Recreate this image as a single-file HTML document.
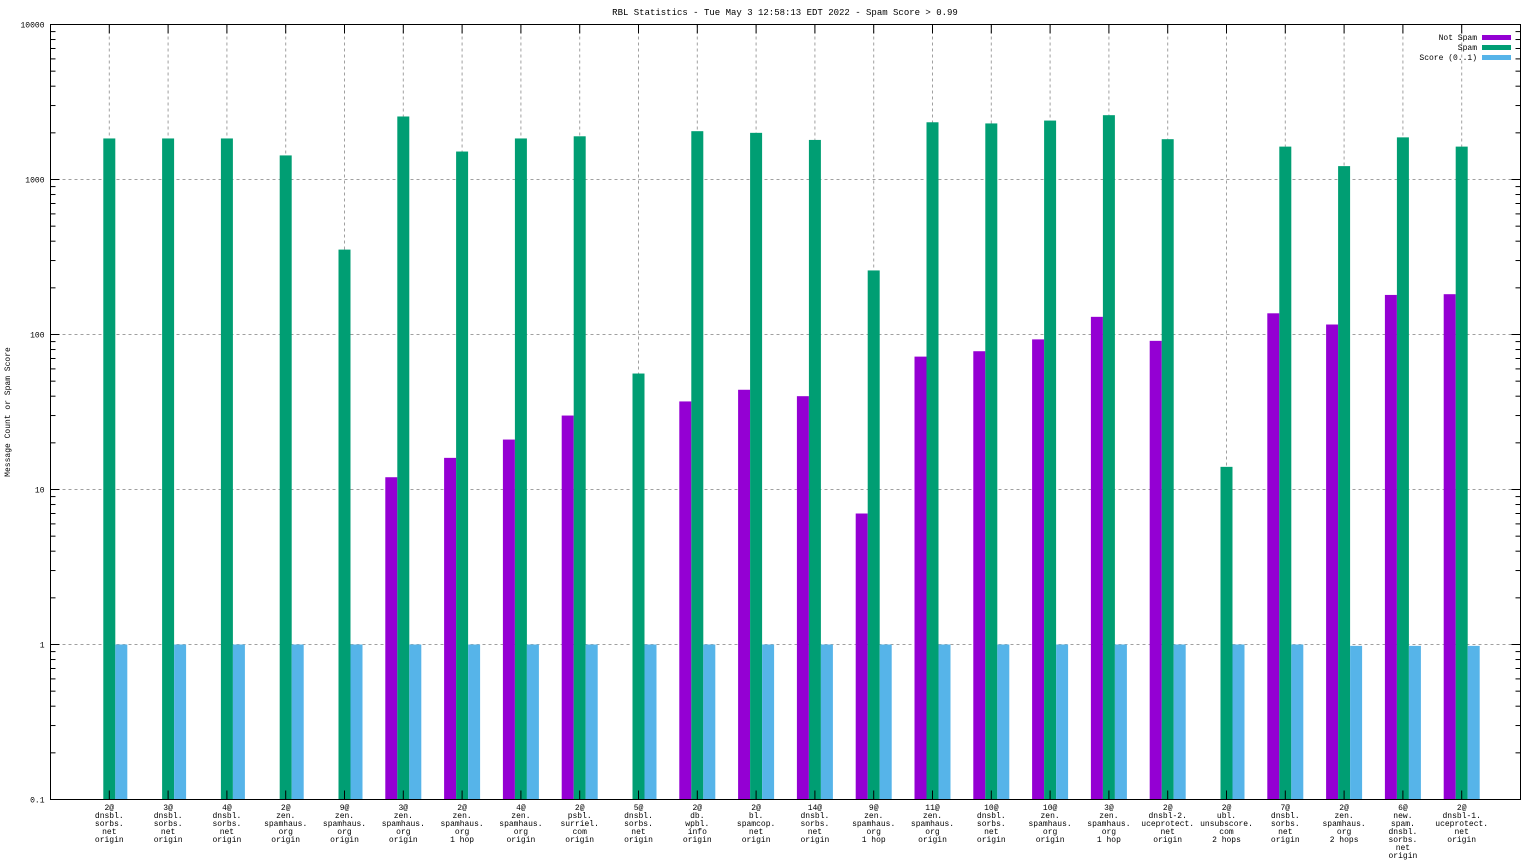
<!DOCTYPE html>
<html><head><meta charset="utf-8"><style>
html,body{margin:0;padding:0;background:#fff}
svg{display:block;font-family:"Liberation Mono","DejaVu Sans Mono",monospace}
</style></head><body>
<svg id="chart" width="1536" height="864" viewBox="0 0 1536 864" xmlns="http://www.w3.org/2000/svg">
<text x="785" y="15" font-size="9" text-anchor="middle">RBL Statistics - Tue May  3 12:58:13 EDT 2022 - Spam Score &gt; 0.99</text>
<text transform="translate(10,412) rotate(-90)" font-size="8" text-anchor="middle">Message Count or Spam Score</text>
<g id="grid"></g><g id="bars"></g><g id="axes"></g>
<g font-size="8" text-anchor="end">
<text x="1477" y="40">Not Spam</text>
<rect x="1482" y="35" width="29" height="5" fill="#9400d3"/>
<text x="1477" y="50">Spam</text>
<rect x="1482" y="45" width="29" height="5" fill="#009e73"/>
<text x="1477" y="60">Score (0..1)</text>
<rect x="1482" y="55" width="29" height="5" fill="#56b4e9"/>
</g>
</svg>
<script>
const categories=[
["2@","dnsbl.","sorbs.","net","origin"],["3@","dnsbl.","sorbs.","net","origin"],["4@","dnsbl.","sorbs.","net","origin"],
["2@","zen.","spamhaus.","org","origin"],["9@","zen.","spamhaus.","org","origin"],["3@","zen.","spamhaus.","org","origin"],
["2@","zen.","spamhaus.","org","1 hop"],["4@","zen.","spamhaus.","org","origin"],["2@","psbl.","surriel.","com","origin"],
["5@","dnsbl.","sorbs.","net","origin"],["2@","db.","wpbl.","info","origin"],["2@","bl.","spamcop.","net","origin"],
["14@","dnsbl.","sorbs.","net","origin"],["9@","zen.","spamhaus.","org","1 hop"],["11@","zen.","spamhaus.","org","origin"],
["10@","dnsbl.","sorbs.","net","origin"],["10@","zen.","spamhaus.","org","origin"],["3@","zen.","spamhaus.","org","1 hop"],
["2@","dnsbl-2.","uceprotect.","net","origin"],["2@","ubl.","unsubscore.","com","2 hops"],["7@","dnsbl.","sorbs.","net","origin"],
["2@","zen.","spamhaus.","org","2 hops"],["6@","new.","spam.","dnsbl.","sorbs.","net","origin"],["2@","dnsbl-1.","uceprotect.","net","origin"]];
const notSpam=[0,0,0,0,0,12,16,21,30,0,37,44,40,7,72,78,93,130,91,0,137,116,180,182];
const spam=[1840,1840,1840,1430,353,2550,1515,1840,1900,56,2050,2000,1800,259,2340,2300,2400,2600,1820,14,1630,1220,1870,1630];
const score=[1,1,1,1,1,1,1,1,1,1,1,1,1,1,1,1,1,1,1,1,1,0.98,0.98,0.98];
const yTicks=[0.1,1,10,100,1000,10000];
const yTickLabels=["0.1","1","10","100","1000","10000"];

const L=50.5,R=1520.5,T=24.5,B=799.5,NS="http://www.w3.org/2000/svg";
const xs=i=>L+(i+1)*(R-L)/(categories.length+1);
const ys=v=>B-(Math.log10(v)+1)*(B-T)/5;
function mk(tag,at,parent){const e=document.createElementNS(NS,tag);for(const k in at)e.setAttribute(k,at[k]);parent.appendChild(e);return e;}
const grid=document.getElementById('grid'),bars=document.getElementById('bars'),axes=document.getElementById('axes');
yTicks.forEach((v,k)=>{const y=ys(v);
 if(k>0&&k<yTicks.length-1){const g=mk('line',{x1:L,x2:R,y1:y,y2:y,stroke:'#a0a0a0','stroke-dasharray':'3,3'},grid);
 
 }
 const t=mk('text',{x:L-6,y:y+3,'font-size':8,'text-anchor':'end'},axes);t.textContent=yTickLabels[k];
 
 
 const lenM=9;mk('line',{x1:L,x2:L+lenM,y1:y,y2:y,stroke:'#000'},axes);mk('line',{x1:R,x2:R-lenM,y1:y,y2:y,stroke:'#000'},axes);
 if(k<yTicks.length-1)for(let m=2;m<10;m++){const yy=ys(v*m);mk('line',{x1:L,x2:L+5,y1:yy,y2:yy,stroke:'#000'},axes);mk('line',{x1:R,x2:R-5,y1:yy,y2:yy,stroke:'#000'},axes);}
});
const bw=12;
categories.forEach((c,i)=>{const x=xs(i);
 const g=mk('line',{x1:x,x2:x,y1:T,y2:B,stroke:'#a0a0a0','stroke-dasharray':'3,3'},grid);
 
 
 mk('line',{x1:x,x2:x,y1:T,y2:T+9,stroke:'#000'},axes);mk('line',{x1:x,x2:x,y1:B,y2:B-9,stroke:'#000'},axes);
 [[notSpam,'#9400d3',-1,'not-spam'],[spam,'#009e73',0,'spam'],[score,'#56b4e9',1,'score']].forEach(([arr,col,off,nm])=>{
  const v=arr[i];if(!(v>0.1))return;const y=ys(v);
  const r=mk('rect',{x:x+off*bw-bw/2,y:y,width:bw,height:B-y,fill:col},bars);
  
  
 });
 c.forEach((line,j)=>{const t=mk('text',{x:x,y:810+j*8,'font-size':8,'text-anchor':'middle'},axes);t.textContent=line;
  
  });
});
const fr=mk('rect',{x:L,y:T,width:R-L,height:B-T,fill:'none',stroke:'#000'},axes);


</script>
</body></html>
